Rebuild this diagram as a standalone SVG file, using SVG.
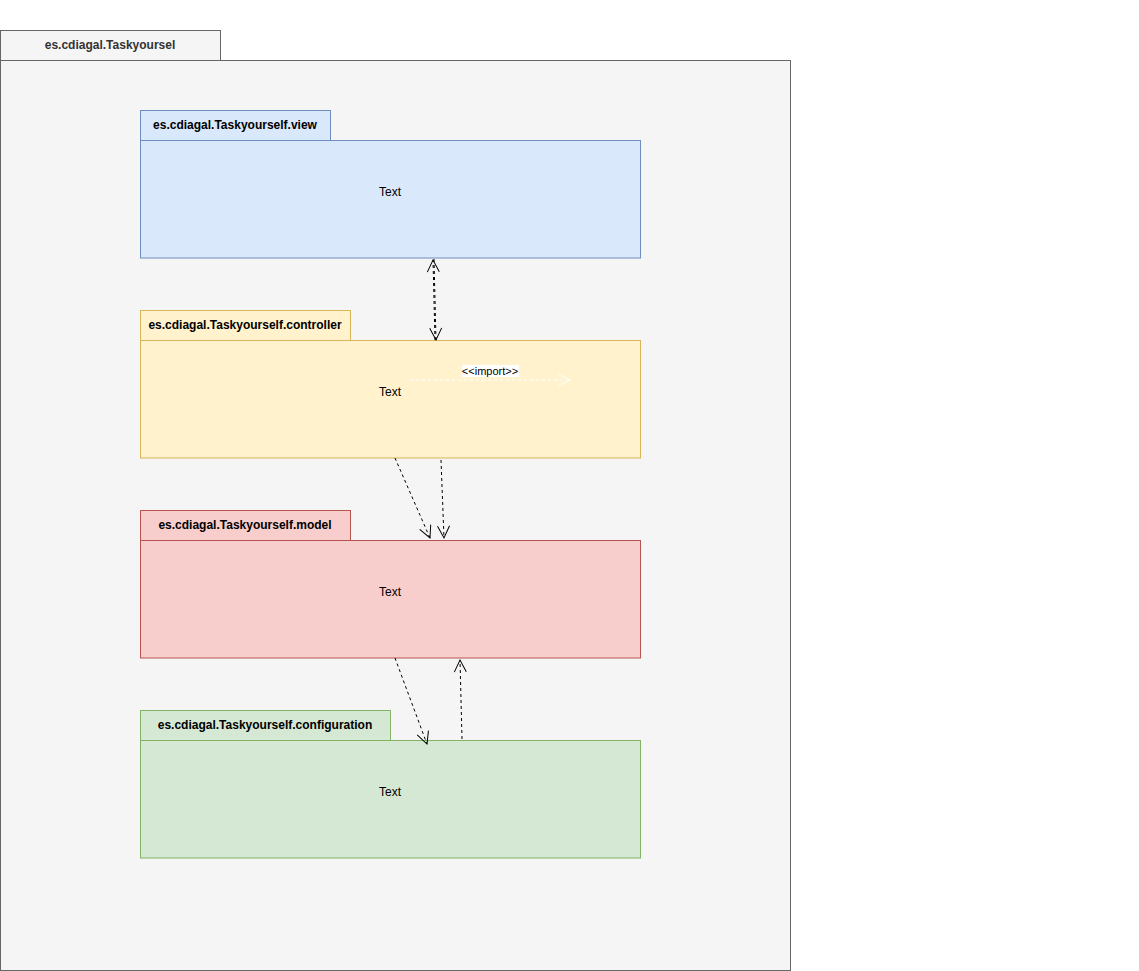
<svg xmlns="http://www.w3.org/2000/svg" width="1139" height="971" viewBox="0 0 1139 971">
<style>
.t{font-family:"Liberation Sans",Arial,sans-serif;font-size:12px;text-anchor:middle;fill:#000}
.b{font-weight:bold}
.e{fill:none;stroke:#000;stroke-dasharray:3 3}
</style>
<defs>
<marker id="oa" markerWidth="16" markerHeight="16" refX="13" refY="8" orient="auto" markerUnits="userSpaceOnUse">
<path d="M1,2 L13,8 L1,14" fill="none" stroke="#000" stroke-width="1"/>
</marker>
<marker id="ow" markerWidth="16" markerHeight="16" refX="13" refY="8" orient="auto" markerUnits="userSpaceOnUse">
<path d="M1,2 L13,8 L1,14" fill="none" stroke="#fff" stroke-width="1"/>
</marker>
</defs>
<rect width="1139" height="971" fill="#fff"/>
<g id="outer">
<rect x="0.5" y="30.5" width="220" height="30" fill="#f5f5f5" stroke="#666"/>
<rect x="0.5" y="60.5" width="790" height="910" fill="#f5f5f5" stroke="#666"/>
<text class="t b" x="110" y="49" style="fill:#333">es.cdiagal.Taskyoursel</text>
</g>
<g id="view">
<rect x="140.5" y="110.5" width="190" height="30" fill="#dae8fc" stroke="#6c8ebf"/>
<rect x="140.5" y="140.5" width="500" height="117.5" fill="#dae8fc" stroke="#6c8ebf"/>
<text class="t b" x="235" y="129">es.cdiagal.Taskyourself.view</text>
<text class="t" x="390" y="196">Text</text>
</g>
<g id="controller">
<rect x="140.5" y="310.5" width="210" height="30" fill="#fff2cc" stroke="#d6b656"/>
<rect x="140.5" y="340.5" width="500" height="117.5" fill="#fff2cc" stroke="#d6b656"/>
<text class="t b" x="245" y="329">es.cdiagal.Taskyourself.controller</text>
<text class="t" x="390" y="396">Text</text>
</g>
<g id="model">
<rect x="140.5" y="510.5" width="210" height="30" fill="#f8cecc" stroke="#b85450"/>
<rect x="140.5" y="540.5" width="500" height="117.5" fill="#f8cecc" stroke="#b85450"/>
<text class="t b" x="245" y="529">es.cdiagal.Taskyourself.model</text>
<text class="t" x="390" y="596">Text</text>
</g>
<g id="configuration">
<rect x="140.5" y="710.5" width="250" height="30" fill="#d5e8d4" stroke="#82b366"/>
<rect x="140.5" y="740.5" width="500" height="117.5" fill="#d5e8d4" stroke="#82b366"/>
<text class="t b" x="265" y="729">es.cdiagal.Taskyourself.configuration</text>
<text class="t" x="390" y="796">Text</text>
</g>
<g id="connectors">
<path class="e" d="M435,340 L433,260" marker-end="url(#oa)"/>
<path class="e" d="M434,259 L436,340" marker-end="url(#oa)"/>
<path d="M410,380 L570,380" fill="none" stroke="#fff" stroke-dasharray="3 3" marker-end="url(#ow)"/>
<rect x="462" y="365" width="57" height="12" fill="#fff"/>
<text class="t" x="490" y="375" style="font-size:11px">&lt;&lt;import&gt;&gt;</text>
<path class="e" d="M395,458 L430,538" marker-end="url(#oa)"/>
<path class="e" d="M441,460 L444,538" marker-end="url(#oa)"/>
<path class="e" d="M395,658 L427,744" marker-end="url(#oa)"/>
<path class="e" d="M462,739 L460,660" marker-end="url(#oa)"/>
</g>
</svg>
